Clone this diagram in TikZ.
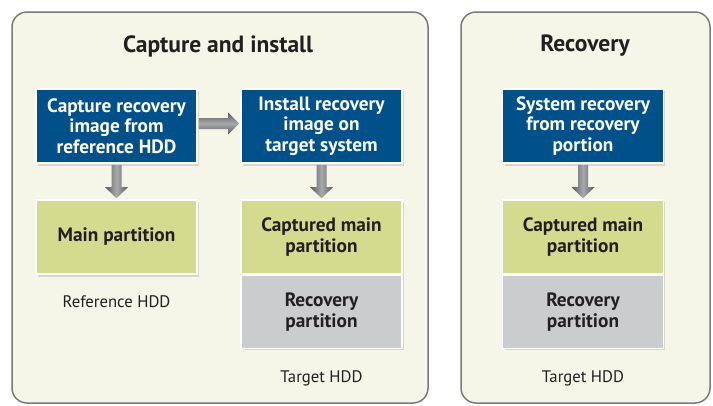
\documentclass[tikz,border=0pt]{standalone}
\usepackage{fontspec}
\setmainfont{PT Sans}
\usetikzlibrary{calc}
\definecolor{panelfill}{HTML}{F5F5E8}
\definecolor{panelline}{HTML}{7A7A7A}
\definecolor{bluebox}{HTML}{00508A}
\definecolor{greenbox}{HTML}{D5DB8E}
\definecolor{graybox}{HTML}{CBCCCE}
\definecolor{txt}{HTML}{231F20}
\definecolor{arrowdark}{HTML}{58595B}
\definecolor{arrowlight}{HTML}{A7A9AC}
\tikzset{
  panel/.style={draw=panelline, line width=1.5pt, fill=panelfill, rounded corners=15pt},
  boxbase/.style={draw=white, line width=1.6pt, minimum width=161pt, inner sep=0pt, align=center,
    font=\fontsize{19.3}{20.7}\selectfont\bfseries},
  bluenode/.style={boxbase, fill=bluebox, text=white, minimum height=74pt},
  greennode/.style={boxbase, fill=greenbox, text=txt, minimum height=74pt},
  graynode/.style={boxbase, fill=graybox, text=txt, minimum height=73pt},
  titletext/.style={font=\fontsize{23.5}{26}\selectfont\bfseries, text=txt},
  labeltext/.style={font=\fontsize{16.7}{19}\selectfont, text=txt},
  shadowbox/.style={fill=black, opacity=0.12},
}
\newcommand{\myDownArrow}[2]{% from node #1 south to node #2 north
  \path let \p1=(#1.south), \p2=(#2.north) in
    [left color=arrowdark, right color=arrowdark, middle color=arrowlight]
    (\x1-5pt,\y1-1pt) -- (\x1+5pt,\y1-1pt) -- (\x1+5pt,\y2+12pt) -- (\x1+11.5pt,\y2+12pt)
    -- (\x1,\y2+1pt) -- (\x1-11.5pt,\y2+12pt) -- (\x1-5pt,\y2+12pt) -- cycle;
}
\begin{document}
\begin{tikzpicture}[x=1pt,y=-1pt]
\useasboundingbox (0,0) rectangle (713,405);
% panels
\draw[panel] (12,12) rectangle (428,403);
\draw[panel] (461,12) rectangle (710,403);
% titles
\node[titletext] (t1) at (218,46) {Capture and install};
\node[titletext] (t2) at (585,46) {Recovery};
% shadows
\fill[shadowbox] (37.5,91) rectangle (199,165.5);
\fill[shadowbox] (242.5,91) rectangle (404,165.5);
\fill[shadowbox] (504.5,91) rectangle (665,165.5);
\fill[shadowbox] (37.5,202) rectangle (199,276.5);
\fill[shadowbox] (242.5,202) rectangle (404,349.5);
\fill[shadowbox] (504.5,202) rectangle (665,349.5);
% blue boxes
\node[bluenode] (cap) at (116.5,126) {Capture recovery\\image from\\reference HDD};
\node[bluenode] (inst) at (321.5,126) {Install recovery\\image on\\target system};
\node[bluenode] (sys) at (583,126) {System recovery\\from recovery\\portion};
% partitions
\node[greennode] (main) at (116.5,237) {Main partition};
\node[greennode] (cmain1) at (321.5,237) {Captured main\\partition};
\node[graynode, anchor=north] (rec1) at (cmain1.south) {Recovery\\partition};
\node[greennode] (cmain2) at (583,237) {Captured main\\partition};
\node[graynode, anchor=north] (rec2) at (cmain2.south) {Recovery\\partition};
% labels
\node[labeltext] (l1) at (116.5,302) {Reference HDD};
\node[labeltext] (l2) at (321.5,378) {Target HDD};
\node[labeltext] (l3) at (583,378) {Target HDD};
% arrows
\myDownArrow{cap}{main}
\myDownArrow{inst}{cmain1}
\myDownArrow{sys}{cmain2}
\path let \p1=(cap.east), \p2=(inst.west) in
  [top color=arrowdark, bottom color=arrowdark, middle color=arrowlight]
  (\x1+1pt,\y1+8pt) -- (\x2-12pt,\y1+8pt) -- (\x2-12pt,\y1+13.5pt) -- (\x2-1pt,\y1+2.5pt)
  -- (\x2-12pt,\y1-8.5pt) -- (\x2-12pt,\y1-3pt) -- (\x1+1pt,\y1-3pt) -- cycle;
\end{tikzpicture}
\end{document}
